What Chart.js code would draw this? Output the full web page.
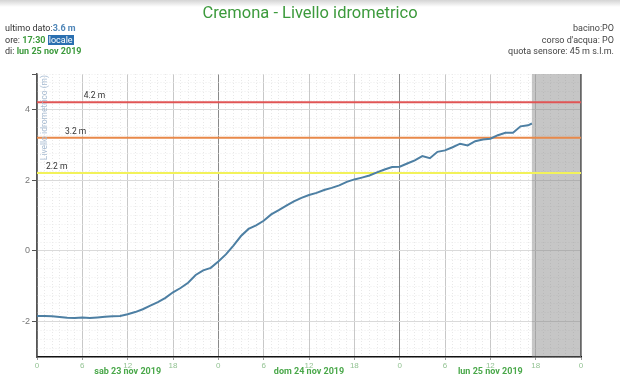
<!DOCTYPE html>
<html>
<head>
<meta charset="utf-8">
<script src="https://cdn.jsdelivr.net/npm/chart.js@4.4.0/dist/chart.umd.min.js"></script>
<style>
  body { margin: 0; background: #fff; font-family: Roboto, "Noto Sans", sans-serif; }
  #wrap { position: relative; width: 620px; height: 385px; overflow: hidden; }
  #shadow { position: absolute; left: 0; top: 0; width: 620px; height: 7px; background: linear-gradient(#d4d4d4, #fff); }
  #title { position: absolute; top: 3px; left: 0; width: 620px; text-align: center; color: #3c9a3c; font-size: 16.5px; }
  #info { position: absolute; left: 5px; top: 23px; font-size: 9px; line-height: 11.5px; color: #333; }
  #info .v { color: #4f86b8; font-weight: bold; }
  #info .g { color: #3c9a3c; font-weight: bold; }
  #info .loc { background: #2a6fb0; color: #fff; padding: 0 1px; }
  #meta { position: absolute; right: 6px; top: 23px; text-align: right; font-size: 9px; line-height: 11.5px; color: #444; }
  canvas { position: absolute; left: 0; top: 0; }
</style>
</head>
<body>
<div id="wrap">
  <canvas id="myChart" width="620" height="385"></canvas>
  <div id="shadow"></div>
  <div id="title">Cremona - Livello idrometrico</div>
  <div id="info">
    ultimo dato:<span class="v">3.6 m</span><br>
    ore: <span class="g">17:30</span> <span class="loc">locale</span><br>
    di: <span class="g">lun 25 nov 2019</span>
  </div>
  <div id="meta">
    bacino:PO<br>
    corso d'acqua: PO<br>
    quota sensore: 45 m s.l.m.
  </div>
</div>
<script>
// Data

const hours = [
  0, 1, 2, 3, 4, 5, 6, 7, 8, 9, 10, 11, 12, 13, 14, 15, 16, 17, 18, 19, 20, 21, 22, 23,
  24, 25, 26, 27, 28, 29, 30, 31, 32, 33, 34, 35, 36, 37, 38, 39, 40, 41, 42, 43, 44, 45, 46, 47,
  48, 49, 50, 51, 52, 53, 54, 55, 56, 57, 58, 59, 60, 61, 62, 63, 64, 65, 65.5
];
const levels = [
  -1.84, -1.84, -1.85, -1.87, -1.89, -1.9, -1.88, -1.9, -1.88, -1.86, -1.85, -1.84,
  -1.79, -1.73, -1.65, -1.55, -1.45, -1.33, -1.17, -1.05, -0.9, -0.68, -0.55, -0.48,
  -0.3, -0.1, 0.15, 0.42, 0.62, 0.72, 0.85, 1.03, 1.15, 1.28, 1.4, 1.5,
  1.58, 1.64, 1.72, 1.78, 1.85, 1.95, 2.02, 2.07, 2.13, 2.22, 2.3, 2.37,
  2.38, 2.47, 2.56, 2.68, 2.62, 2.8, 2.84, 2.93, 3.03, 2.98, 3.1, 3.15,
  3.17, 3.27, 3.34, 3.34, 3.52, 3.55, 3.6
];
const thresholds = [4.2, 3.2, 2.2];
const thresholdLabels = ["4.2 m", "3.2 m", "2.2 m"];
const thresholdColors = ["#e05555", "#e8894a", "#f2f25a"];
const dayLabels = ["sab 23 nov 2019", "dom 24 nov 2019", "lun 25 nov 2019"];
const hourTicks = [0, 6, 12, 18, 0, 6, 12, 18, 0, 6, 12, 18, 0];
const yLabelTicks = [-2, 0, 2, 4];

const xMax = 72;
const lastHour = hours[hours.length - 1];

// Datasets

const seriesData = hours.map((h, i) => ({ x: h, y: levels[i] }));

const thresholdSets = thresholds.map((t, i) => ({
  data: [{ x: 0, y: t }, { x: xMax, y: t }],
  borderColor: thresholdColors[i],
  borderWidth: 2,
  pointRadius: 0,
  order: 2,
}));

// Plugins

const extras = {
  id: "extras",
  beforeDatasetsDraw(chart) {
    const { ctx, chartArea, scales } = chart;
    const x0 = scales.x.getPixelForValue(lastHour);
    const x1 = scales.x.getPixelForValue(xMax);
    ctx.save();
    ctx.fillStyle = "rgba(120,120,120,0.42)";
    ctx.fillRect(x0, chartArea.top, x1 - x0, chartArea.bottom - chartArea.top);
    ctx.strokeStyle = "#666";
    ctx.lineWidth = 1;
    ctx.beginPath();
    ctx.moveTo(Math.round(x1) - 0.5, chartArea.top);
    ctx.lineTo(Math.round(x1) - 0.5, chartArea.bottom);
    ctx.stroke();
    ctx.restore();
  },
  afterDraw(chart) {
    const { ctx, chartArea, scales } = chart;
    ctx.save();
    // threshold labels
    ctx.font = "8.5px Roboto, sans-serif";
    ctx.fillStyle = "#333";
    ctx.textBaseline = "bottom";
    const labelHours = [6.2, 3.7, 1.2];
    thresholds.forEach((t, i) => {
      ctx.fillText(thresholdLabels[i], scales.x.getPixelForValue(labelHours[i]), scales.y.getPixelForValue(t) - 2);
    });
    // axis title
    ctx.translate(chartArea.left + 8, chartArea.top + 1);
    ctx.rotate(-Math.PI / 2);
    ctx.textAlign = "right";
    ctx.textBaseline = "middle";
    ctx.fillStyle = "#a8bcd2";
    ctx.font = "8.5px Roboto, sans-serif";
    ctx.fillText("Livello idrometrico (m)", 0, 0);
    ctx.restore();
    // day labels
    ctx.save();
    ctx.font = "bold 9px Roboto, sans-serif";
    ctx.fillStyle = "#4aa84a";
    ctx.textAlign = "center";
    ctx.textBaseline = "middle";
    dayLabels.forEach((d, i) => {
      ctx.fillText(d, scales.x.getPixelForValue(i * 24 + 12), 372);
    });
    ctx.restore();
  },
};

const isMajorY = (v) => yLabelTicks.includes(v);

const config = {
  type: "line",
  data: {
    datasets: [
      {
        data: seriesData,
        borderColor: "#4d7fa3",
        borderWidth: 2,
        pointRadius: 0,
        tension: 0,
        order: 1,
      },
      ...thresholdSets,
    ],
  },
  options: {
    animation: false,
    responsive: false,
    layout: { padding: { top: 74, right: 39, left: 0, bottom: 0 } },
    plugins: { legend: { display: false }, tooltip: { enabled: false } },
    scales: {
      x: {
        type: "linear",
        min: 0,
        max: xMax,
        afterFit: (s) => { s.height = 28; },
        ticks: {
          stepSize: 1,
          autoSkip: false,
          maxRotation: 0,
          padding: 1,
          color: "#93c393",
          font: { size: 8 },
          callback: (v) => (v % 6 === 0 ? String(hourTicks[v / 6]) : ""),
        },
        grid: {
          color: (c) => {
            const v = c.tick ? c.tick.value : 0;
            if (v % 24 === 0) return "#8a8a8a";
            if (v % 6 === 0) return "#c8c8c8";
            return "#e8e8e8";
          },
          lineWidth: 1,
          tickLength: 3,
          tickColor: (c) => (c.tick && c.tick.value % 6 === 0 ? "#999" : "rgba(0,0,0,0)"),
        },
        border: {
          color: "#111",
          width: 1.5,
          dash: (c) => (c.tick && c.tick.value % 6 !== 0 ? [1, 2] : []),
        },
      },
      y: {
        min: -3,
        max: 5,
        afterFit: (s) => { s.width = 37; },
        ticks: {
          stepSize: 0.25,
          autoSkip: false,
          padding: 2,
          color: "#777",
          font: { size: 9 },
          callback: (v) => (isMajorY(v) ? String(v) : ""),
        },
        grid: {
          color: (c) => {
            const v = c.tick ? c.tick.value : 0;
            return isMajorY(v) ? "#dadada" : "#ececec";
          },
          lineWidth: 1,
          tickLength: 5,
          tickColor: (c) => (c.tick && (isMajorY(c.tick.value) || c.tick.value === 5) ? "#555" : "rgba(0,0,0,0)"),
        },
        border: {
          color: "#555",
          width: 1.5,
          dash: (c) => (c.tick && !isMajorY(c.tick.value) ? [1, 2] : []),
        },
      },
    },
  },
  plugins: [extras],
};

const myChart = new Chart(document.getElementById("myChart"), config);
</script>
</body>
</html>
